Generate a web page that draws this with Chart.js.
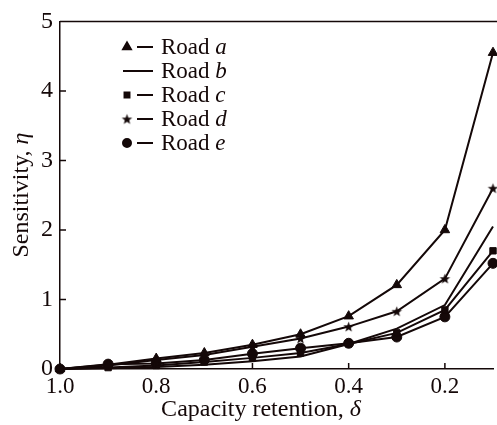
<!DOCTYPE html>
<html>
<head>
<meta charset="utf-8">
<script src="https://cdn.jsdelivr.net/npm/chart.js@4.4.1/dist/chart.umd.min.js"></script>
<style>
  html, body { margin: 0; padding: 0; background: #fff; overflow: hidden; }
  #wrap { width: 500px; height: 425px; position: relative; }
</style>
</head>
<body>
<div id="wrap"><canvas id="chart" width="500" height="425"></canvas></div>
<script>
  // capacity retention (x) and sensitivity per road (y)
  const retention = [1.0, 0.9, 0.8, 0.7, 0.6, 0.5, 0.4, 0.3, 0.2, 0.1];
  const roadA = [0, 0.06, 0.15, 0.23, 0.35, 0.50, 0.76, 1.21, 2.00, 4.55];
  const roadB = [0, 0.01, 0.03, 0.06, 0.11, 0.18, 0.36, 0.58, 0.92, 2.05];
  const roadC = [0, 0.02, 0.05, 0.10, 0.16, 0.23, 0.36, 0.52, 0.85, 1.70];
  const roadD = [0, 0.05, 0.13, 0.20, 0.32, 0.44, 0.61, 0.83, 1.30, 2.60];
  const roadE = [0, 0.07, 0.08, 0.13, 0.22, 0.30, 0.37, 0.46, 0.75, 1.52];
  const xTicks = [1.0, 0.8, 0.6, 0.4, 0.2];
  const yTicks = [0, 1, 2, 3, 4, 5];
  const roadNames = ["a", "b", "c", "d", "e"];

  const INK = "#140808";
  const SERIF = "'Liberation Serif', 'DejaVu Serif', serif";

  // filled five point star, Chart.js only has a stroked one
  function makeStar(r) {
    const c = document.createElement("canvas");
    const s = Math.ceil(r * 2 + 2);
    c.width = s; c.height = s;
    const g = c.getContext("2d");
    g.fillStyle = INK;
    g.beginPath();
    for (let i = 0; i < 10; i++) {
      const rr = i % 2 === 0 ? r : r * 0.42;
      const ang = -Math.PI / 2 + i * Math.PI / 5;
      const px = s / 2 + rr * Math.cos(ang), py = s / 2 + 0.5 + rr * Math.sin(ang);
      i === 0 ? g.moveTo(px, py) : g.lineTo(px, py);
    }
    g.closePath();
    g.fill();
    return c;
  }
  const star = makeStar(5.5);

  const pts = (ys) => retention.map((x, i) => ({ x, y: ys[i] }));
  const series = [
    { data: roadA, style: "triangle", radius: 5.5 },
    { data: roadB, style: "circle", radius: 0 },
    { data: roadC, style: "rect", radius: 4.5 },
    { data: roadD, style: star, radius: 6 },
    { data: roadE, style: "circle", radius: 5 }
  ];

  const datasets = series.map((s, i) => ({
    label: "Road " + roadNames[i],
    data: pts(s.data),
    borderColor: INK,
    backgroundColor: INK,
    borderWidth: 2,
    pointStyle: s.style,
    pointRadius: s.radius,
    pointBorderWidth: 1,
    tension: 0
  }));

  // frame top line, inward ticks, titles and legend
  const decor = {
    id: "decor",
    afterDraw(chart) {
      const ctx = chart.ctx;
      const a = chart.chartArea;
      const xs = chart.scales.x, ys = chart.scales.y;
      ctx.save();
      ctx.strokeStyle = INK;
      ctx.lineWidth = 1.5;
      ctx.beginPath();
      ctx.moveTo(a.left, a.top);
      ctx.lineTo(a.right + 5, a.top);
      // inward tick marks
      xTicks.forEach(v => {
        const px = xs.getPixelForValue(v);
        ctx.moveTo(px, a.bottom);
        ctx.lineTo(px, a.bottom - 6);
      });
      yTicks.forEach(v => {
        const py = ys.getPixelForValue(v);
        ctx.moveTo(a.left, py);
        ctx.lineTo(a.left + 6, py);
      });
      ctx.stroke();

      // axis titles with italic greek letter
      ctx.fillStyle = INK;
      ctx.textBaseline = "alphabetic";
      const drawMixed = (parts, x, y) => {
        let w = 0;
        parts.forEach(p => { ctx.font = p[1] + " 24px " + SERIF; w += ctx.measureText(p[0]).width; });
        let cx = x - w / 2;
        ctx.textAlign = "left";
        parts.forEach(p => {
          ctx.font = p[1] + " 24px " + SERIF;
          ctx.fillText(p[0], cx, y);
          cx += ctx.measureText(p[0]).width;
        });
      };
      drawMixed([["Capacity retention, ", "normal"], ["\u03b4", "italic"]], 261, 416);
      ctx.save();
      ctx.translate(28, 195);
      ctx.rotate(-Math.PI / 2);
      drawMixed([["Sensitivity, ", "normal"], ["\u03b7", "italic"]], 0, 0);
      ctx.restore();

      // legend
      const lx = 127, ly0 = 47, dy = 24;
      chart.data.datasets.forEach((ds, i) => {
        const y = ly0 + i * dy;
        ctx.strokeStyle = INK;
        ctx.lineWidth = 2;
        ctx.beginPath();
        if (ds.pointRadius > 0) {
          ctx.moveTo(lx + 10, y);
          ctx.lineTo(lx + 26, y);
        } else {
          ctx.moveTo(lx - 4, y);
          ctx.lineTo(lx + 26, y);
        }
        ctx.stroke();
        if (ds.pointRadius > 0) {
          Chart.helpers.drawPoint(ctx, {
            pointStyle: ds.pointStyle,
            radius: ds.pointStyle === "triangle" ? 4.5 : ds.pointRadius - 1,
            rotation: 0,
            borderWidth: 1
          }, lx, y);
          ctx.fillStyle = INK;
          ctx.fill();
        }
        ctx.fillStyle = INK;
        ctx.textAlign = "left";
        ctx.textBaseline = "middle";
        ctx.font = "normal 23px " + SERIF;
        ctx.fillText("Road ", lx + 34, y + 1);
        const w = ctx.measureText("Road ").width;
        ctx.font = "italic 23px " + SERIF;
        ctx.fillText(roadNames[i], lx + 34 + w, y + 1);
      });
      ctx.restore();
    }
  };

  new Chart(document.getElementById("chart"), {
    type: "line",
    data: { datasets },
    plugins: [decor],
    options: {
      responsive: false,
      animation: false,
      clip: false,
      layout: { padding: { top: 16, right: 1, left: 0, bottom: 0 } },
      plugins: { legend: { display: false }, tooltip: { enabled: false } },
      scales: {
        x: {
          type: "linear",
          reverse: true,
          min: 0.1,
          max: 1.0,
          afterBuildTicks: s => { s.ticks = xTicks.map(v => ({ value: v })); },
          afterFit: s => { s.height = 56; },
          grid: { display: false, drawTicks: false },
          border: { display: true, color: INK, width: 1.5 },
          ticks: {
            color: INK,
            padding: 4,
            font: { family: SERIF, size: 23 },
            callback: v => v.toFixed(1)
          }
        },
        y: {
          min: 0,
          max: 5,
          afterBuildTicks: s => { s.ticks = yTicks.map(v => ({ value: v })); },
          afterFit: s => { s.width = 60; },
          grid: { display: false, drawTicks: false },
          border: { display: true, color: INK, width: 1.5 },
          ticks: {
            color: INK,
            padding: 7,
            font: { family: SERIF, size: 24 },
            callback: v => String(v)
          }
        }
      }
    }
  });
</script>
</body>
</html>
